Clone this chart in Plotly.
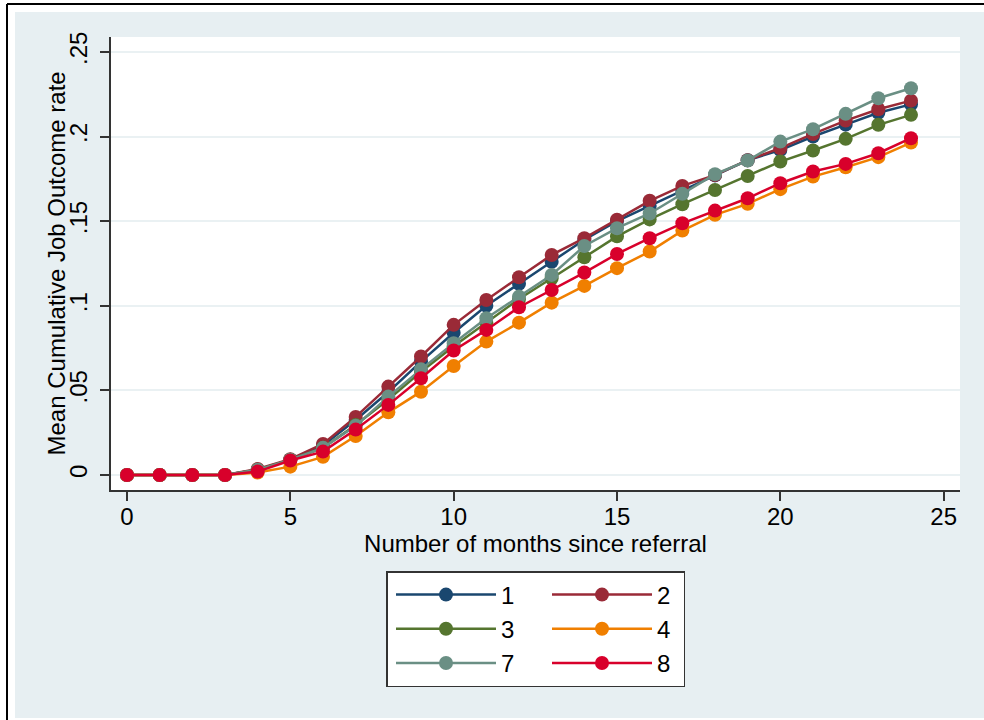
import plotly.graph_objects as go

months = list(range(25))
series_names = ["1", "2", "3", "4", "7", "8"]
s1 = [0, 0, 0, 0, 0.003, 0.009, 0.0175, 0.0325, 0.049, 0.067, 0.084, 0.100, 0.113, 0.126, 0.139, 0.150, 0.159, 0.168, 0.177, 0.186, 0.192, 0.200, 0.207, 0.214, 0.219]
s2 = [0, 0, 0, 0, 0.0035, 0.0093, 0.0183, 0.0343, 0.0522, 0.070, 0.0887, 0.1034, 0.1168, 0.130, 0.1399, 0.1508, 0.162, 0.1708, 0.1772, 0.186, 0.1931, 0.2015, 0.2094, 0.2161, 0.2212]
s3 = [0, 0, 0, 0, 0.003, 0.009, 0.016, 0.0295, 0.0445, 0.061, 0.076, 0.090, 0.104, 0.1162, 0.1286, 0.141, 0.151, 0.160, 0.1684, 0.1767, 0.1852, 0.1917, 0.1986, 0.2069, 0.2128]
s4 = [0, 0, 0, 0, 0.0014, 0.0049, 0.0107, 0.023, 0.037, 0.0492, 0.0644, 0.0788, 0.090, 0.1018, 0.1117, 0.1222, 0.132, 0.1444, 0.1537, 0.1602, 0.1689, 0.1763, 0.1818, 0.1878, 0.1964]
s7 = [0, 0, 0, 0, 0.003, 0.009, 0.016, 0.029, 0.0463, 0.0624, 0.0778, 0.0926, 0.1054, 0.1182, 0.1353, 0.1458, 0.1545, 0.1661, 0.1777, 0.1858, 0.197, 0.2043, 0.2134, 0.2226, 0.2285]
s8 = [0, 0, 0, 0, 0.002, 0.0085, 0.0138, 0.0268, 0.0414, 0.0571, 0.0735, 0.0857, 0.0991, 0.1093, 0.1196, 0.1306, 0.1399, 0.1487, 0.1562, 0.1635, 0.1724, 0.1793, 0.1838, 0.1901, 0.199]
series_values = [s1, s2, s3, s4, s7, s8]
colors = ["#1a476f", "#9a2a37", "#55752f", "#f07f00", "#6a8f84", "#d8002b"]
groups = ["a", "b", "a", "b", "a", "b"]
legend_widths = [36, 21, 36, 21, 36, 21]

x_ticks = [0, 5, 10, 15, 20, 25]
y_ticks = [0, 0.05, 0.1, 0.15, 0.2, 0.25]
y_ticktext = ["0", ".05", ".1", ".15", ".2", ".25"]
x_title = "Number of months since referral"
y_title = "Mean Cumulative Job Outcome rate"

FONT = "Liberation Sans, Arial, Helvetica, sans-serif"

fig = go.Figure()
for name, vals, col, grp, lw in zip(series_names, series_values, colors, groups, legend_widths):
    fig.add_trace(go.Scatter(
        x=months, y=vals, name=name, mode="lines+markers",
        line=dict(color=col, width=2.5),
        marker=dict(color=col, size=14),
        legendgroup=grp, legendwidth=lw,
    ))

W, H = 984, 720
L, R, T, B = 111, 24, 37, 230
pw, ph = W - L - R, H - T - B


def px(xp):
    return (xp - L) / pw


def py(yp):
    return (H - B - yp) / ph


light = "#e7eff2"
shapes = [
    dict(type="rect", xref="paper", yref="paper", x0=px(0), x1=px(15), y0=py(H), y1=py(0),
         fillcolor="white", line=dict(width=0), layer="below"),
    dict(type="rect", xref="paper", yref="paper", x0=px(0), x1=px(W), y0=py(12), y1=py(0),
         fillcolor="white", line=dict(width=0), layer="below"),
    dict(type="rect", xref="paper", yref="paper", x0=px(0), x1=px(W), y0=py(H), y1=py(718),
         fillcolor="white", line=dict(width=0), layer="below"),
    dict(type="line", xref="paper", yref="paper", x0=px(7), x1=px(7), y0=py(4), y1=py(H),
         line=dict(color="black", width=2), layer="below"),
    dict(type="line", xref="paper", yref="paper", x0=px(7), x1=px(W), y0=py(4), y1=py(4),
         line=dict(color="black", width=2), layer="below"),
]

fig.update_layout(
    width=W, height=H,
    margin=dict(l=L, r=R, t=T, b=B),
    paper_bgcolor=light,
    plot_bgcolor="white",
    font=dict(family=FONT, size=24, color="black"),
    shapes=shapes,
    showlegend=True,
    legend=dict(
        orientation="h", traceorder="grouped",
        x=0.5, xanchor="center", y=py(571), yanchor="top",
        bgcolor="white", bordercolor="#333333", borderwidth=1.5,
        font=dict(family=FONT, size=24, color="black"),
        itemwidth=100, tracegroupgap=10, indentation=5,
    ),
    annotations=[dict(
        text=y_title, xref="paper", yref="paper", x=px(56), y=0.5,
        xanchor="center", yanchor="middle", textangle=-90, showarrow=False,
        font=dict(family=FONT, size=24, color="black"),
    )],
    xaxis=dict(
        range=[-0.49, 25.5], tickvals=x_ticks, ticks="outside", ticklen=9,
        tickcolor="#333333", tickwidth=1.5, showline=True, linecolor="#333333", linewidth=1.5,
        showgrid=False, zeroline=False, ticklabelstandoff=-5,
        title=dict(text=x_title, standoff=5, font=dict(family=FONT, size=24)),
        tickfont=dict(family=FONT, size=24),
    ),
    yaxis=dict(
        range=[-0.0089, 0.2588], tickvals=y_ticks, ticktext=y_ticktext, tickangle=-90,
        ticks="outside", ticklen=9, tickcolor="#333333", tickwidth=1.5,
        showline=True, linecolor="#333333", linewidth=1.5, ticklabelstandoff=4,
        showgrid=True, gridcolor="#eaf1f3", gridwidth=2, zeroline=False,
        tickfont=dict(family=FONT, size=24),
    ),
)

fig.write_html("out.html", config={"displayModeBar": False},
               post_script="document.body.style.margin='0';")
